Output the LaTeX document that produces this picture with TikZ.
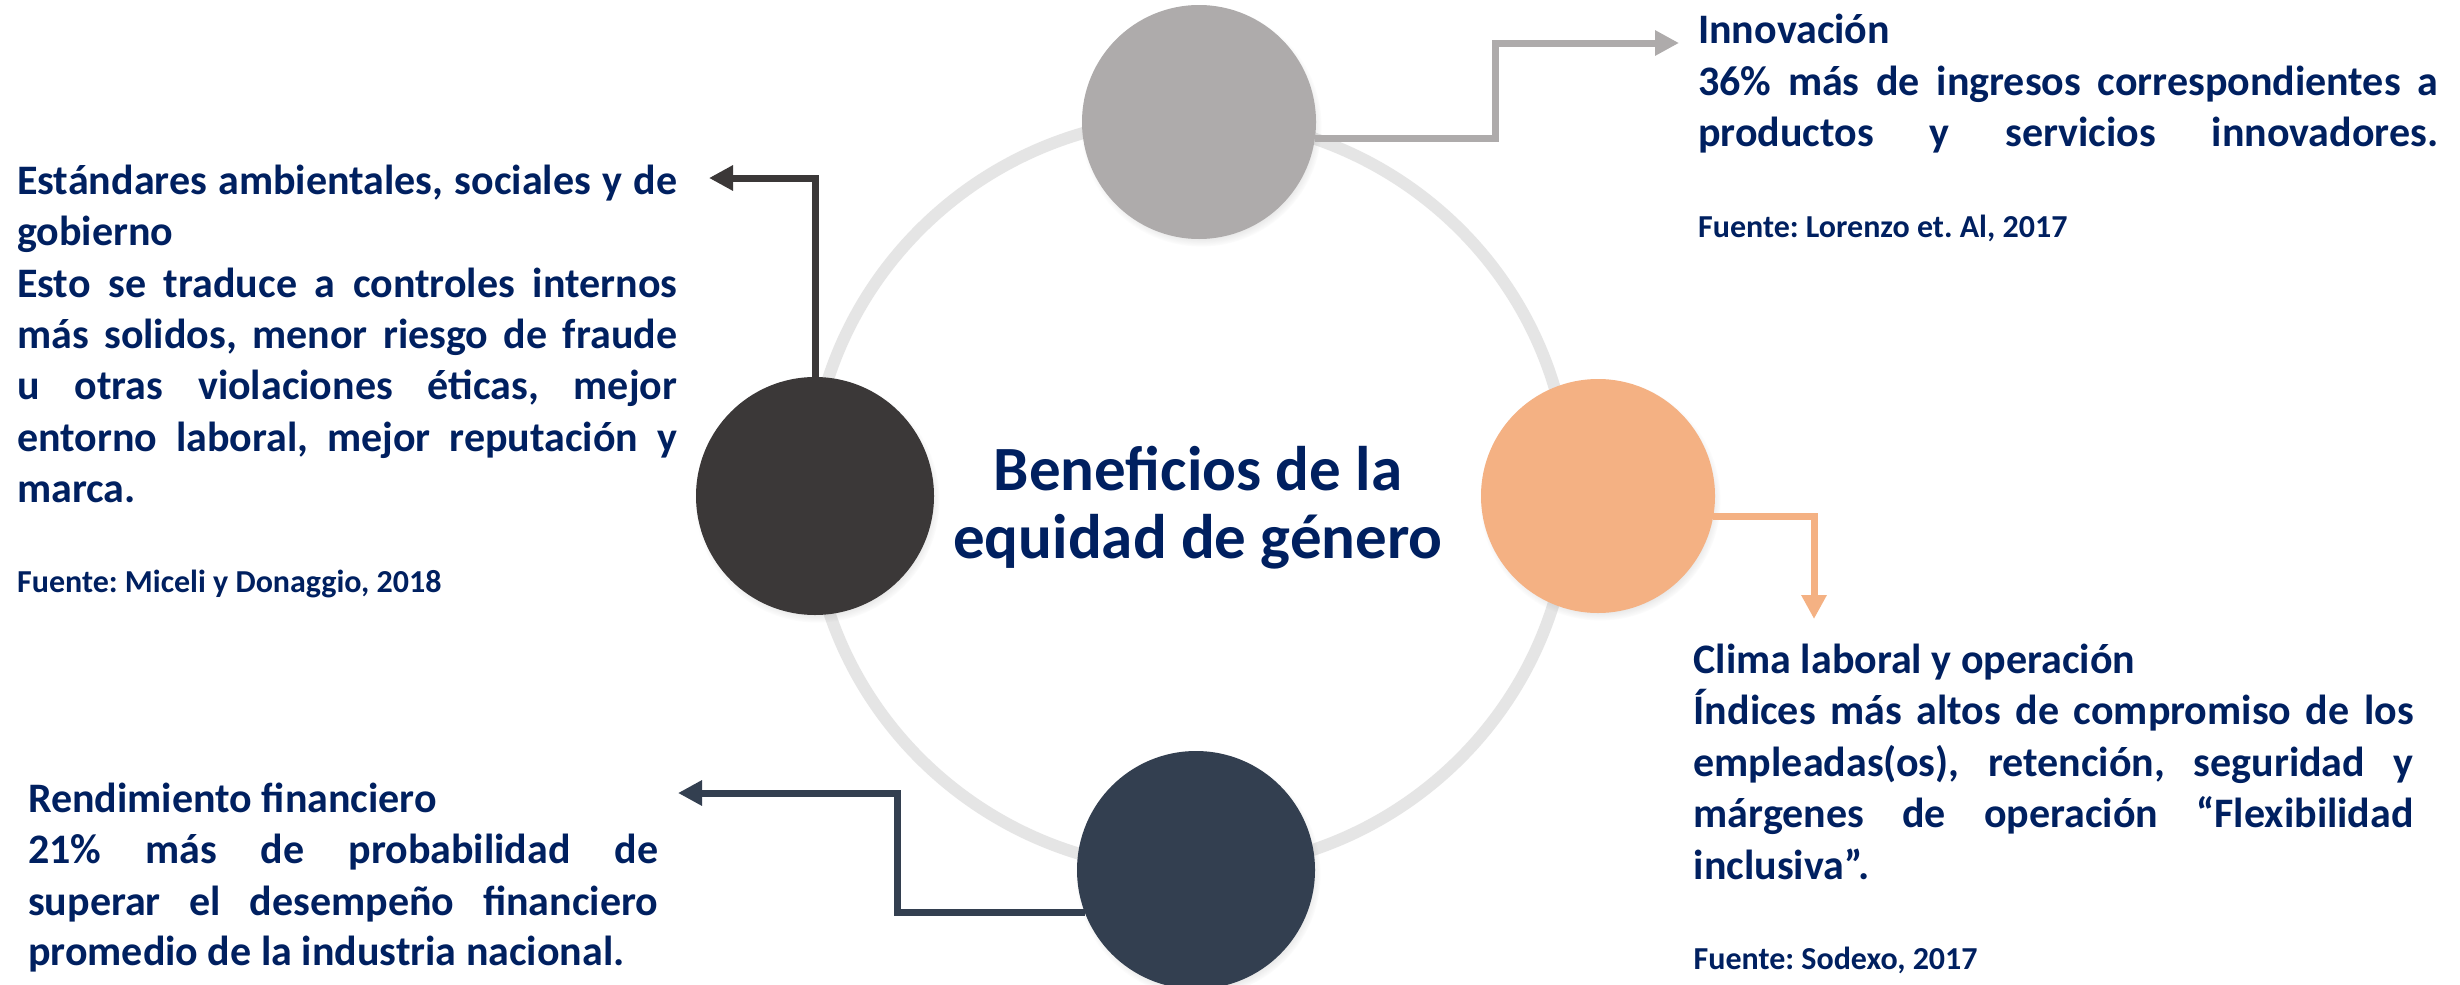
\documentclass[tikz,border=0pt]{standalone}
\usepackage{fontspec}
\setmainfont{Carlito}
\usetikzlibrary{arrows.meta,shadows,fadings}
\definecolor{txt}{HTML}{002060}
\definecolor{cgray}{HTML}{AEABAB}
\definecolor{cdark}{HTML}{3B3838}
\definecolor{corange}{HTML}{F4B183}
\definecolor{cnavy}{HTML}{333F50}
\definecolor{cring}{HTML}{E5E5E5}
\frenchspacing
\begin{document}
\begin{tikzpicture}[x=1pt,y=-1pt,
  ball/.style={circle,inner sep=0pt,minimum size=#1,
    circular drop shadow={shadow scale=1.03,shadow xshift=2pt,shadow yshift=-4pt,opacity=0.35}},
  body/.style={anchor=base west,inner sep=0pt,text=txt,font=\fontsize{42}{51}\selectfont\bfseries\frenchspacing},
  src/.style={anchor=base west,inner sep=0pt,text=txt,font=\fontsize{32}{39}\selectfont\bfseries\frenchspacing},
  ttl/.style={anchor=base,inner sep=0pt,text=txt,font=\fontsize{63}{69}\selectfont\bfseries},
  conn/.style={line width=7pt,-{Triangle[width=24pt,length=24pt]}},
  ring/.style={draw=cring,line width=12pt}]
\fill[white] (0,0) rectangle (2460,985);
\useasboundingbox (0,0) rectangle (2460,985);

% ring
\draw[ring] (1190,494) ellipse [x radius=380pt, y radius=376pt];

% circles
\node[ball=234pt,fill=cgray] (gray) at (1199,122) {};
\node[ball=238pt,fill=cdark] (dark) at (815,496) {};
\node[ball=234pt,fill=corange] (orange) at (1598,496) {};
\node[ball=238pt,fill=cnavy] (navy) at (1196,870) {};

% connector end points
\coordinate (gA) at (1495,43);
\coordinate (gT) at (1679,43);
\coordinate (dT) at (709,178);
\coordinate (oT) at (1814,619);
\coordinate (nA) at (897,793);
\coordinate (nT) at (678,793);

\draw[conn,draw=cgray] (gray.-8) -| (gA) -- (gT);
\draw[conn,draw=cdark] (dark.north) |- (dT);
\draw[conn,draw=corange] (orange.-10) -| (oT);
\draw[conn,draw=cnavy] (navy.201) -| (nA) -- (nT);

% centre title
\node[ttl] (t1) at (1198,490) {Beneficios de la};
\node[ttl] (t2) at (1198,558) {equidad de género};

% top right
\node[body] (i1) at (1698,43) {Innovación};
\node[body] (i2) at (1698,95) {\makebox[740pt][s]{36\% más de ingresos correspondientes a}};
\node[body] (i3) at (1698,146.5) {\makebox[740pt][s]{productos y servicios innovadores.}};
\node[src] (i4) at (1698,237) {Fuente: Lorenzo et. Al, 2017};

% left
\node[body] (e1) at (17,194) {\makebox[660pt][s]{Estándares ambientales, sociales y de}};
\node[body] (e2) at (17,245.5) {gobierno};
\node[body] (e3) at (17,297) {\makebox[660pt][s]{Esto se traduce a controles internos}};
\node[body] (e4) at (17,348) {\makebox[660pt][s]{más solidos, menor riesgo de fraude}};
\node[body] (e5) at (17,399.5) {\makebox[660pt][s]{u otras violaciones éticas, mejor}};
\node[body] (e6) at (17,451) {\makebox[660pt][s]{entorno laboral, mejor reputación y}};
\node[body] (e7) at (17,502) {marca.};
\node[src] (e8) at (17,592) {Fuente: Miceli y Donaggio, 2018};

% bottom right
\node[body] (c1) at (1693.5,673) {Clima laboral y operación};
\node[body] (c2) at (1693.5,724.5) {\makebox[720pt][s]{Índices más altos de compromiso de los}};
\node[body] (c3) at (1693.5,776) {\makebox[720pt][s]{empleadas(os), retención, seguridad y}};
\node[body] (c4) at (1693.5,827.5) {\makebox[720pt][s]{márgenes de operación “Flexibilidad}};
\node[body] (c5) at (1693.5,879) {inclusiva”.};
\node[src] (c6) at (1693.5,969.5) {Fuente: Sodexo, 2017};

% bottom left
\node[body] (r1) at (28,812) {Rendimiento financiero};
\node[body] (r2) at (28,863.5) {\makebox[630pt][s]{21\% más de probabilidad de}};
\node[body] (r3) at (28,915) {\makebox[630pt][s]{superar el desempeño financiero}};
\node[body] (r4) at (28,965) {promedio de la industria nacional.};
\end{tikzpicture}
\end{document}
